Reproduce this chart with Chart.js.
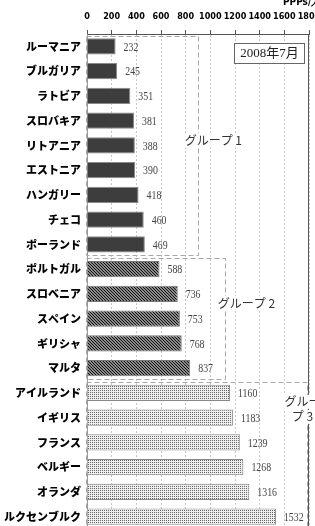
<!DOCTYPE html>
<html>
<head>
<meta charset="utf-8">
<script src="https://cdn.jsdelivr.net/npm/chart.js@4.4.0/dist/chart.umd.min.js"></script>
<style>
html, body { margin: 0; padding: 0; background: #fff; overflow: hidden; }
#pppChart { display: block; }
</style>
</head>
<body>
<canvas id="pppChart" width="315" height="529"></canvas>
<script>
// グループ別の国名と値 (PPPs/人, 2008年7月)
const group1Labels = ['ルーマニア', 'ブルガリア', 'ラトビア', 'スロバキア', 'リトアニア', 'エストニア', 'ハンガリー', 'チェコ', 'ポーランド'];
const group1Values = [232, 245, 351, 381, 388, 390, 418, 460, 469];

const group2Labels = ['ポルトガル', 'スロベニア', 'スペイン', 'ギリシャ', 'マルタ'];
const group2Values = [588, 736, 753, 768, 837];

const group3Labels = ['アイルランド', 'イギリス', 'フランス', 'ベルギー', 'オランダ', 'ルクセンブルク'];
const group3Values = [1160, 1183, 1239, 1268, 1316, 1532];

const xMin = 0;
const xMax = 1800;
const xStep = 200;

const labels = group1Labels.concat(group2Labels, group3Labels);
const values = group1Values.concat(group2Values, group3Values);

const canvas = document.getElementById('pppChart');
const ctx0 = canvas.getContext('2d');

function makeHatch() {
    const c = document.createElement('canvas');
    c.width = 3;
    c.height = 3;
    const g = c.getContext('2d');
    g.fillStyle = '#fff';
    g.fillRect(0, 0, 3, 3);
    g.strokeStyle = '#111';
    g.lineWidth = 1.4;
    g.beginPath();
    g.moveTo(-1, -1); g.lineTo(4, 4);
    g.moveTo(-1, 2); g.lineTo(1, 4);
    g.moveTo(2, -1); g.lineTo(4, 1);
    g.stroke();
    return ctx0.createPattern(c, 'repeat');
}

function makeDots() {
    const c = document.createElement('canvas');
    c.width = 2;
    c.height = 2;
    const g = c.getContext('2d');
    g.fillStyle = '#eeeeee';
    g.fillRect(0, 0, 2, 2);
    g.fillStyle = '#666';
    g.fillRect(0, 0, 1, 1);
    return ctx0.createPattern(c, 'repeat');
}

const hatch = makeHatch();
const dots = makeDots();

const fills = group1Values.map(() => '#3d3d3d')
    .concat(group2Values.map(() => hatch), group3Values.map(() => dots));
const edges = group1Values.map(() => '#8a8a8a')
    .concat(group2Values.map(() => '#777'), group3Values.map(() => '#888'));

// 注記 (グループ枠・ラベル)
const n1 = group1Values.length;
const n2 = group2Values.length;
const n3 = group3Values.length;
const groupBoxes = [
    { from: 0, to: n1 - 1, end: 898, text: [{ t: 'グループ 1', at: 3.8, x: 792 }] },
    { from: n1, to: n1 + n2 - 1, end: 1117, text: [{ t: 'グループ 2', at: 10.37, x: 1060 }] },
    { from: n1 + n2, to: n1 + n2 + n3 - 1, end: 1782, text: [{ t: 'グルー', at: 14.36, x: 1602 }, { t: 'プ 3', at: 14.97, x: 1660 }] },
];

const overlay = {
    id: 'overlay',
    beforeDatasetsDraw(chart) {
        const { ctx, scales: { x, y } } = chart;
        const pitch = y.getPixelForValue(1) - y.getPixelForValue(0);
        ctx.save();
        ctx.strokeStyle = '#a8a8a8';
        ctx.lineWidth = 1;
        ctx.setLineDash([5, 3]);
        groupBoxes.forEach(b => {
            const left = Math.round(x.getPixelForValue(0)) - 0.5;
            const right = Math.round(x.getPixelForValue(b.end)) + 0.5;
            const top = Math.round(y.getPixelForValue(b.from) - pitch / 2 + 1.5) + 0.5;
            const bottom = Math.round(y.getPixelForValue(b.to) + pitch / 2 - 1.5) + 0.5;
            ctx.strokeRect(left, top, right - left, bottom - top);
        });
        ctx.restore();
    },
    afterDatasetsDraw(chart) {
        const { ctx, chartArea, scales: { x, y } } = chart;
        const pitch = y.getPixelForValue(1) - y.getPixelForValue(0);
        const meta = chart.getDatasetMeta(0);

        // 値ラベル
        ctx.save();
        ctx.font = '12px "Liberation Serif"';
        ctx.fillStyle = '#444';
        ctx.textBaseline = 'middle';
        ctx.textAlign = 'left';
        meta.data.forEach((bar, i) => {
            ctx.save();
            ctx.translate(bar.x + 8, bar.y + 1);
            ctx.scale(0.82, 1);
            ctx.fillText(String(values[i]), 0, 0);
            ctx.restore();
        });
        ctx.restore();

        // 右端の枠線
        ctx.save();
        ctx.strokeStyle = '#555';
        ctx.lineWidth = 1;
        ctx.beginPath();
        ctx.moveTo(Math.round(chartArea.right) - 0.5, chartArea.top);
        ctx.lineTo(Math.round(chartArea.right) - 0.5, chartArea.bottom);
        ctx.stroke();
        ctx.restore();

        // グループ名
        ctx.save();
        ctx.font = '12px "Noto Sans CJK JP"';
        ctx.textBaseline = 'middle';
        ctx.textAlign = 'left';
        groupBoxes.forEach(b => {
            b.text.forEach(line => {
                const px = x.getPixelForValue(line.x);
                const py = y.getPixelForValue(0) + line.at * pitch;
                const w = ctx.measureText(line.t).width;
                ctx.fillStyle = '#fff';
                ctx.fillRect(px - 2, py - 7, w + 4, 14);
                ctx.fillStyle = '#333';
                ctx.fillText(line.t, px, py);
            });
        });
        ctx.restore();

        // 日付の枠
        ctx.save();
        const bx = Math.round(chartArea.right) - 74.5;
        const by = Math.round(chartArea.top) + 9.5;
        ctx.fillStyle = '#fff';
        ctx.fillRect(bx, by, 70, 20);
        ctx.strokeStyle = '#666';
        ctx.lineWidth = 1;
        ctx.strokeRect(bx, by, 70, 20);
        ctx.fillStyle = '#222';
        ctx.font = '13px "Liberation Serif", "Noto Sans CJK JP"';
        ctx.textAlign = 'center';
        ctx.textBaseline = 'middle';
        ctx.fillText('2008年7月', bx + 35, by + 10.5);
        ctx.restore();

        // 単位
        ctx.save();
        ctx.font = 'bold 10px "DejaVu Sans Condensed"';
        ctx.fillStyle = '#000';
        ctx.textAlign = 'left';
        ctx.textBaseline = 'middle';
        ctx.fillText('PPPs/人', chartArea.right - 26, 2);
        ctx.restore();
    }
};

const config = {
    type: 'bar',
    data: {
        labels: labels,
        datasets: [{
            data: values,
            backgroundColor: fills,
            borderColor: edges,
            borderWidth: 1,
            barPercentage: 0.65,
            categoryPercentage: 1,
        }]
    },
    options: {
        indexAxis: 'y',
        responsive: false,
        animation: false,
        layout: { padding: { top: 0, right: 6, bottom: 0, left: 0 } },
        plugins: {
            legend: { display: false },
            tooltip: { enabled: false },
        },
        scales: {
            x: {
                position: 'top',
                min: xMin,
                max: xMax,
                ticks: {
                    stepSize: xStep,
                    padding: 8,
                    color: '#000',
                    maxRotation: 0,
                    autoSkip: false,
                    font: { family: 'DejaVu Sans Condensed', weight: 'bold', size: 9 },
                    callback: (value) => String(value),
                },
                grid: {
                    color: '#c6c6c6',
                    lineWidth: 1,
                    drawTicks: true,
                    tickLength: 4,
                    tickColor: '#555',
                    tickBorderDash: [],
                },
                border: { display: true, color: '#555', dash: [2, 2] },
                afterFit(scale) {
                    scale.height = 34;
                    scale.paddingLeft = 0;
                    scale.paddingRight = 0;
                },
            },
            y: {
                ticks: {
                    padding: 6,
                    color: '#000',
                    autoSkip: false,
                    font: { family: 'Noto Sans CJK JP', weight: '900', size: 11 },
                },
                grid: { display: false, drawTicks: false },
                border: { display: true, color: '#999' },
                afterFit(scale) {
                    scale.width = 87;
                    scale.paddingTop = 0;
                    scale.paddingBottom = 0;
                },
            },
        },
    },
    plugins: [overlay],
};

const pppChart = new Chart(canvas, config);
</script>
</body>
</html>
